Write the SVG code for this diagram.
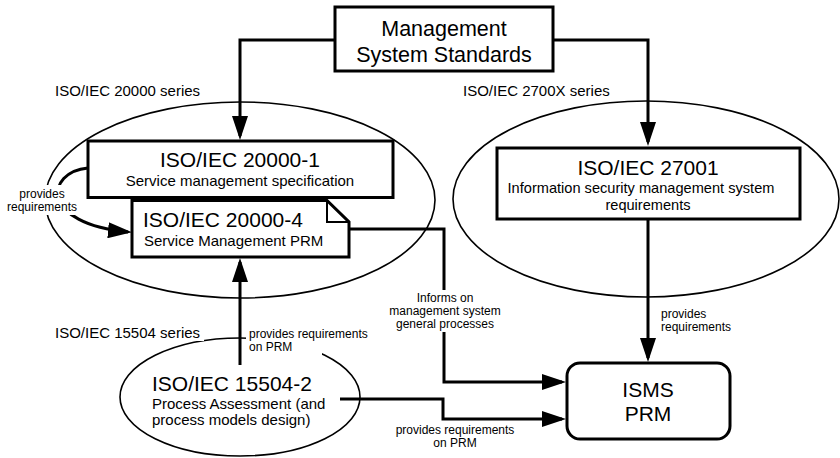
<svg xmlns="http://www.w3.org/2000/svg" width="840" height="458" viewBox="0 0 840 458">
  <style>
    text { font-family: "Liberation Sans", Arial, sans-serif; fill: #000; }
    .box { fill: #fff; stroke: #000; stroke-width: 3; }
    .set { fill: none; stroke: #000; stroke-width: 1.6; }
    .wire { fill: none; stroke: #000; stroke-width: 3; }
    .bg { fill: #fff; stroke: none; }
    .t21 { font-size: 21px; }
    .t15 { font-size: 15px; }
    .t12 { font-size: 12px; }
    .mid { text-anchor: middle; }
  </style>
  <defs>
    <marker id="ah" markerWidth="24" markerHeight="16" refX="20" refY="8" orient="auto" markerUnits="userSpaceOnUse">
      <path d="M0,0 L24,8 L0,16 Z" fill="#000"/>
    </marker>
  </defs>

  <!-- series groupings -->
  <g id="series-20000">
    <ellipse class="set" cx="240" cy="200" rx="195" ry="98"/>
    <text class="t15" x="55" y="96">ISO/IEC 20000 series</text>
  </g>
  <g id="series-2700x">
    <ellipse class="set" cx="646" cy="199" rx="193" ry="98"/>
    <text class="t15" x="463" y="96">ISO/IEC 2700X series</text>
  </g>

  <!-- connectors -->
  <g id="connectors">
    <path class="wire" d="M335,40 H240 V136" marker-end="url(#ah)"/>
    <path class="wire" d="M553,40 H648 V142" marker-end="url(#ah)"/>
    <path class="wire" d="M648,219 V358" marker-end="url(#ah)"/>
    <path class="wire" d="M240,365 V262" marker-end="url(#ah)"/>
    <path class="wire" d="M349,229 H444 V382 H562" marker-end="url(#ah)"/>
    <path class="wire" d="M340,399 H443 V419 H562" marker-end="url(#ah)"/>
    <path class="wire" d="M88,168 C45,172 40,224 128,232" stroke-width="2.2" marker-end="url(#ah)"/>
  </g>

  <!-- connector labels -->
  <g id="label-left">
    <rect class="bg" x="4" y="185" width="76" height="30"/>
    <text class="t12 mid" x="42" y="198">provides</text>
    <text class="t12 mid" x="42" y="211">requirements</text>
  </g>
  <g id="label-informs">
    <rect class="bg" x="386" y="290" width="118" height="42"/>
    <text class="t12 mid" x="445" y="302">Informs on</text>
    <text class="t12 mid" x="445" y="315">management system</text>
    <text class="t12 mid" x="445" y="328">general processes</text>
  </g>
  <g id="label-27001">
    <text class="t12" x="661" y="318">provides</text>
    <text class="t12" x="661" y="331">requirements</text>
  </g>
  <g id="label-bottom">
    <text class="t12 mid" x="455" y="434">provides requirements</text>
    <text class="t12 mid" x="455" y="447">on PRM</text>
  </g>

  <!-- top node -->
  <g id="mss">
    <rect class="box" x="335" y="7" width="218" height="64"/>
    <text class="mid" x="444" y="36" font-size="21.5">Management</text>
    <text class="mid" x="444" y="62" font-size="21.5">System Standards</text>
  </g>

  <g id="iso20000-1">
    <rect class="box" x="88" y="141" width="305" height="56.5"/>
    <text class="t21 mid" x="240" y="167">ISO/IEC 20000-1</text>
    <text class="t15 mid" x="240" y="186">Service management specification</text>
  </g>

  <g id="iso20000-4">
    <path class="box" d="M132,200.5 H327 L349,222 V257 H132 Z"/>
    <path d="M327,200.5 V222 H349" fill="none" stroke="#000" stroke-width="2"/>
    <text class="t21" x="143" y="227">ISO/IEC 20000-4</text>
    <text class="t15" x="144" y="246" font-size="16">Service Management PRM</text>
  </g>

  <g id="iso27001">
    <rect class="box" x="497" y="148" width="303" height="71"/>
    <text class="t21 mid" x="648" y="175">ISO/IEC 27001</text>
    <text class="mid" x="641" y="193" font-size="14.6">Information security management system</text>
    <text class="mid" x="648" y="209.5" font-size="14.6">requirements</text>
  </g>

  <g id="iso15504-2">
    <ellipse class="set" cx="240" cy="397" rx="120" ry="59"/>
    <rect class="bg" x="53" y="325" width="151" height="16"/>
    <text class="t15" x="55" y="338">ISO/IEC 15504 series</text>
    <rect class="bg" x="246" y="326" width="76" height="30"/>
    <text class="t12" x="249" y="338">provides requirements</text>
    <text class="t12" x="249" y="351">on PRM</text>
    <text class="t21" x="152" y="391">ISO/IEC 15504-2</text>
    <text class="t15" x="152" y="409">Process Assessment (and</text>
    <text class="t15" x="152" y="425">process models design)</text>
  </g>

  <g id="isms-prm">
    <rect class="box" x="567" y="363" width="163" height="76" rx="13" ry="13"/>
    <text class="t21 mid" x="648" y="397">ISMS</text>
    <text class="t21 mid" x="648" y="421">PRM</text>
  </g>
</svg>
